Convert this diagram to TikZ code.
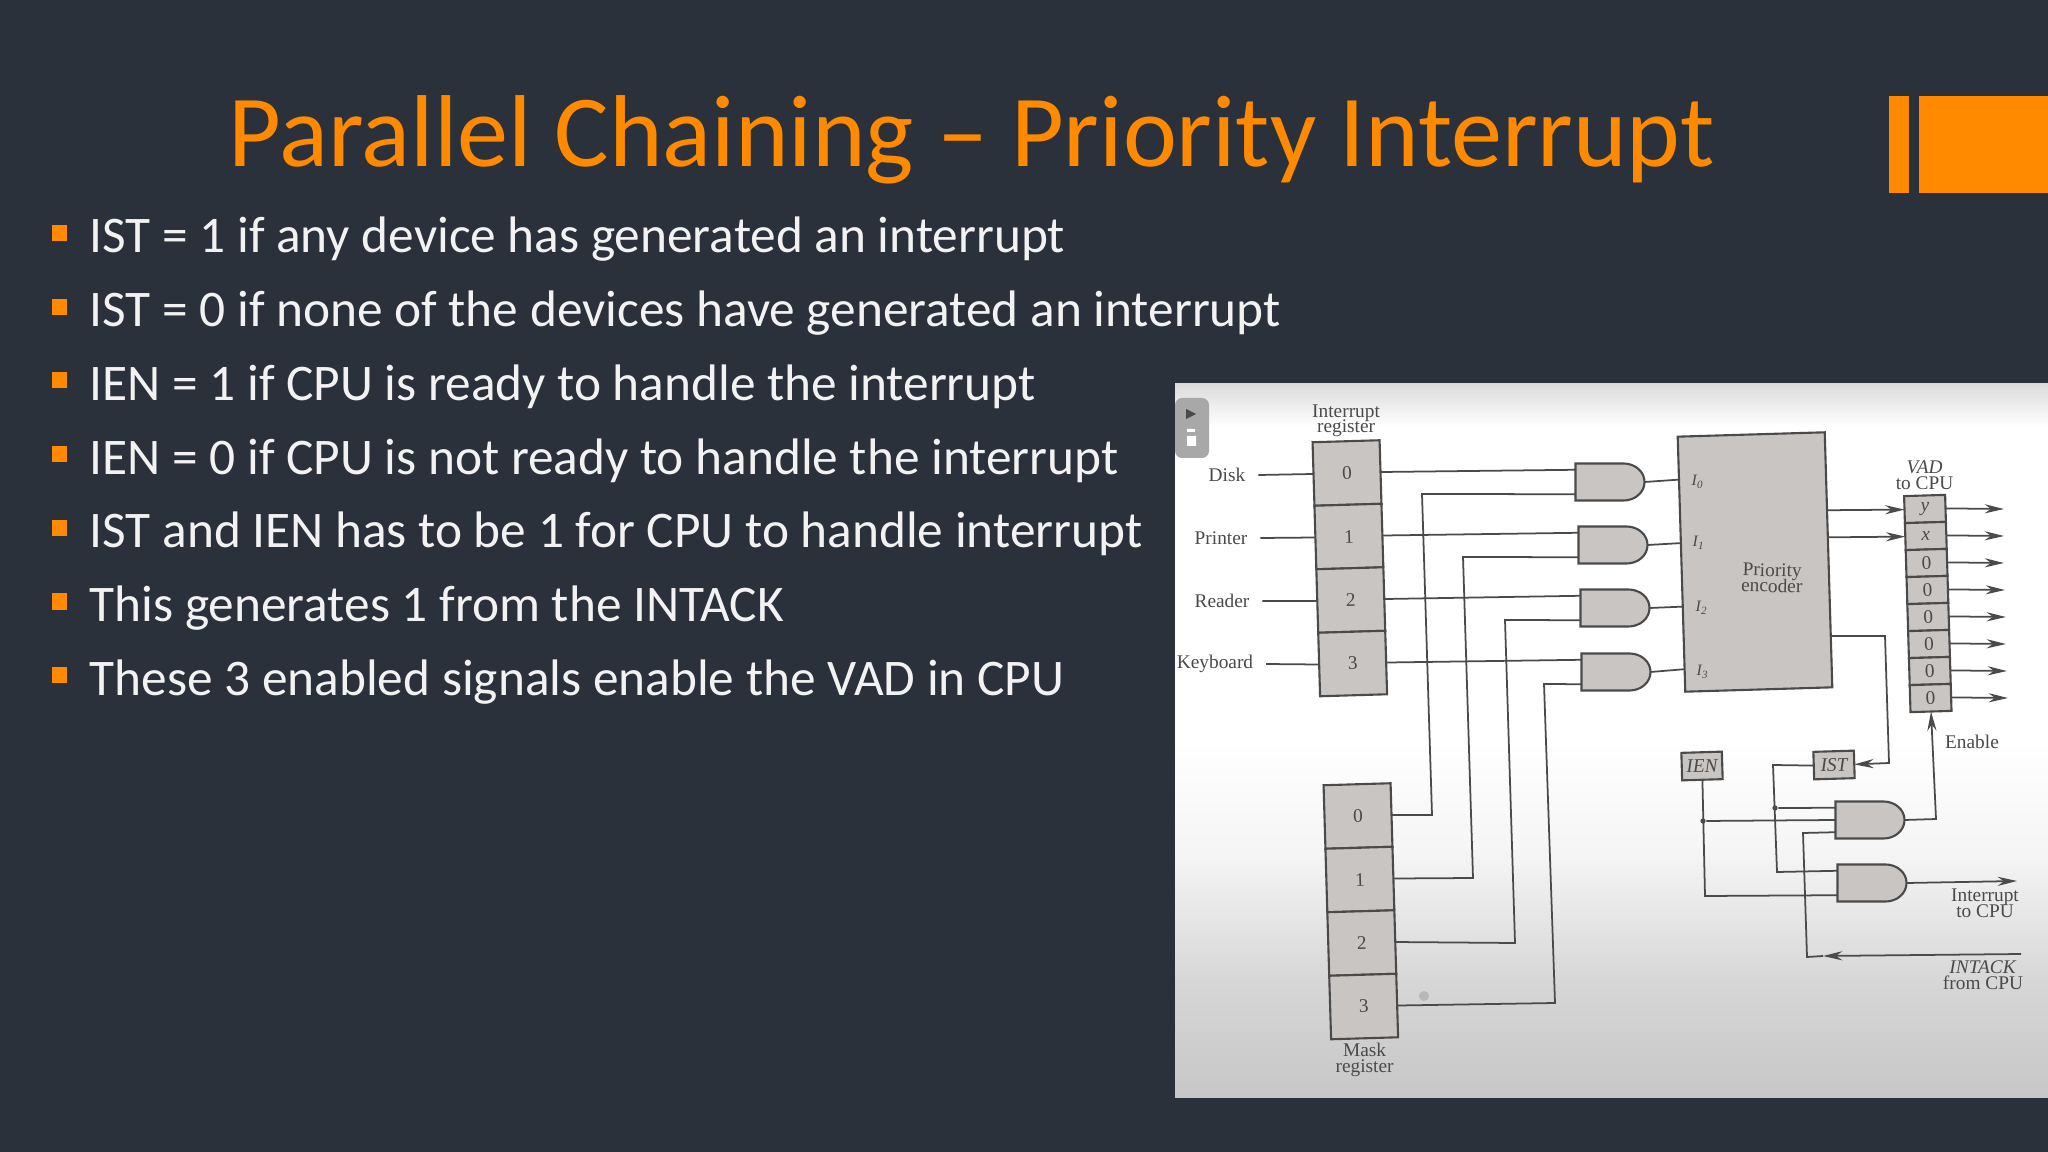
\documentclass[tikz,border=0pt]{standalone}
\usepackage{fontspec}
\setmainfont{Carlito}
\newfontfamily\scanfont{Liberation Serif}
\usetikzlibrary{shapes, arrows.meta, positioning, calc}
\definecolor{slidebg}{HTML}{2B313A}
\definecolor{accent}{HTML}{FF8A00}
\definecolor{ink}{HTML}{4A4A4A}
\definecolor{cellfill}{HTML}{C9C5C3}
\pgfdeclareverticalshading{scanpaper}{100bp}{color(0bp)=(white!78!black); color(25bp)=(white!78!black); color(33bp)=(white!84!black); color(42bp)=(white!96!black); color(50bp)=(white); color(72bp)=(white); color(75bp)=(white!86!black); color(100bp)=(white!86!black)}
\tikzset{
	wire/.style={draw=ink, line width=0.5pt},
	cell/.style={draw=ink, fill=cellfill, line width=0.6pt, outer sep=0pt, rotate=1.7, minimum width=0.67cm, minimum height=0.635cm, inner sep=0pt, text=ink, font=\scanfont\fontsize{5.5}{5}\selectfont},
	vadcell/.style={cell, minimum width=0.41cm, minimum height=0.27cm},
	flagbox/.style={cell, minimum width=0.405cm, minimum height=0.275cm, font=\scanfont\itshape\fontsize{5.5}{5}\selectfont},
	gatebox/.style={rectangle, outer sep=0pt, inner sep=0pt, minimum width=0.69cm, minimum height=0.37cm},
	gatebody/.style={draw=ink, fill=cellfill, line width=0.6pt},
	tag/.style={text=ink, inner xsep=3.5pt, inner ysep=0pt, align=center, font={\scanfont\fontsize{5.5}{4.5}\selectfont\lineskiplimit=-5pt}},
	pin/.style={text=ink, inner sep=0pt, font=\scanfont\itshape\fontsize{4.5}{4}\selectfont},
	point/.style={circle, fill=ink, inner sep=0pt, minimum size=1.5pt},
	linetext/.style={anchor=base west, text=white!95!black, inner sep=0pt, font=\fontsize{14.6}{18}\selectfont},
	square/.style={fill=accent, inner sep=0pt, minimum width=0.15cm, minimum height=0.16cm},
}
\begin{document}
\begin{tikzpicture}[x=0.01cm, y=-0.01cm, node distance=0pt and 0pt, >={Stealth[length=5.5pt,width=2.6pt]}]
	\useasboundingbox (0,0) rectangle (2048,1152);
	\fill[slidebg] (0,0) rectangle (2048,1152);
	\node[anchor=base west, inner sep=0pt, text=accent, font=\fontsize{29.05}{36}\selectfont] (title) at (228,167) {Parallel Chaining -- Priority Interrupt};
	\fill[accent] (1889,96) rectangle (1909,193);
	\fill[accent] (1919,96) rectangle (2048,193);
	\foreach \i/\txt in {0/IST = 1 if any device has generated an interrupt,
		1/IST = 0 if none of the devices have generated an interrupt,
		2/IEN = 1 if CPU is ready to handle the interrupt,
		3/IEN = 0 if CPU is not ready to handle the interrupt,
		4/IST and IEN has to be 1 for CPU to handle interrupt,
		5/This generates 1 from the INTACK,
		6/These 3 enabled signals enable the VAD in CPU} {
		\node[square] (b\i) at (59.5,{233+73.7*\i}) {};
		\node[linetext] (t\i) at (89,{253+73.7*\i}) {\txt};
	}

	\shade[shading=scanpaper] (1175,384) rectangle (2048,1097);
	\fill[white!66!black, rounded corners=2pt] (1175,398) rectangle (1209,458);
	\fill[ink] (1186,409) -- (1196,414) -- (1186,419) -- cycle;
	\fill[white] (1187,429) rectangle (1195,432) (1187,436) rectangle (1196,446);

	\node[cell] (r0) at (1347,473) {0};
	\node[cell, below =of r0] (r1) {1};
	\node[cell, below =of r1] (r2) {2};
	\node[cell, below =of r2] (r3) {3};
	\node[tag, above =1pt of r0] (intreg) {Interrupt\\register};
	\node[cell] (m0) at (1358,816) {0};
	\node[cell, below =of m0] (m1) {1};
	\node[cell, below =of m1] (m2) {2};
	\node[cell, below =of m2] (m3) {3};
	\node[tag, below =1.2pt of m3] (maskreg) {Mask\\register};
	\node[tag] (disk) at (1227,475) {Disk};
	\node[tag] (printer) at (1221,538) {Printer};
	\node[tag] (reader) at (1222,601) {Reader};
	\node[tag] (keyboard) at (1215,664) {Keyboard};
	\node[circle, fill=white!72!black, inner sep=0pt, minimum size=0.1cm] (spot) at (1424,996) {};

	\foreach \g/\x/\y in {a0/1610/482, a1/1613/545, a2/1615/608, a3/1616/672, ga/1870/820, gb/1872/883} {
		\node[gatebox] (\g) at (\x,\y) {};
		\draw[gatebody] (\g.north west) -- ++(0.48cm,0) arc[start angle=90, end angle=-90, x radius=0.21cm, y radius=0.185cm] -- (\g.south west) -- cycle;
		\coordinate (\g-1) at ($(\g.north west)!0.17!(\g.south west)$);
		\coordinate (\g-2) at (\g.west);
		\coordinate (\g-3) at ($(\g.north west)!0.83!(\g.south west)$);
	}

	\node[cell, minimum width=1.47cm, minimum height=2.55cm] (enc) at (1755,562) {};
	\node[tag, rotate=-1.5] (pri) at (1772,578) {Priority\\encoder};
	\node[pin] (i0) at (1698,482) {I\textsubscript{0}};
	\node[pin] (i1) at (1699,543) {I\textsubscript{1}};
	\node[pin] (i2) at (1702,608) {I\textsubscript{2}};
	\node[pin] (i3) at (1703,672) {I\textsubscript{3}};

	\node[vadcell] (v0) at (1925,509) {\textit{y}};
	\node[vadcell, below =of v0] (v1) {\textit{x}};
	\foreach \a/\b in {1/2,2/3,3/4,4/5,5/6,6/7}
		\node[vadcell, below =of v\a] (v\b) {0};
	\node[tag, above =1.5pt of v0] (vad) {\textit{VAD}\\to CPU};
	\node[tag] (enable) at (1972,742) {Enable};

	\node[flagbox] (ien) at (1702,766) {IEN};
	\node[flagbox] (ist) at (1834,765) {IST};
	\node[tag] (intcpu) at (1985,903) {Interrupt\\to CPU};
	\node[tag] (intack) at (1983,975) {\textit{INTACK}\\from CPU};

	\foreach \from/\to in {disk/r0, printer/r1, reader/r2, keyboard/r3}
		\draw[wire] (\from.east) -- (\to.west);
	\foreach \i in {0,1,2,3}
		\draw[wire] (r\i.east) -- (a\i-1);
	\foreach \i/\xb/\yb/\xt/\yt in {0/1432/815/1422/494, 1/1473/878/1463/557, 2/1515/943/1505/620, 3/1555/1003/1544/684} {
		\coordinate (k\i) at (\xb,\yb);
		\coordinate (j\i) at (\xt,\yt);
		\draw[wire] (m\i.east) -- (k\i) -- (j\i) -- (a\i-3);
	}
	\foreach \from/\to in {a0/enc.131.8, a1/enc.164.6, a2/enc.210.8, a3/enc.235.5}
		\draw[wire] (\from.east) -- (\to);

	\draw[wire, ->] (enc.34.6) -- (v0.west);
	\draw[wire, ->] (enc.17.2) -- (v1.west);
	\foreach \i/\xe in {0/2004,1/2004,2/2004,3/2005,4/2006,5/2006,6/2007,7/2008} {
		\coordinate (o\i) at (\xe,{509+27*\i});
		\draw[wire, ->] (v\i.east) -- (o\i);
	}

	\coordinate (c1) at (1885,636);
	\coordinate (c2) at (1889,763);
	\draw[wire, ->] (enc.-46) -- (c1) -- (c2) -- (ist.east);

	\coordinate (s1) at (1773,765);
	\coordinate (s2) at (1777,872);
	\node[point] (p1) at (1775,808) {};
	\draw[wire] (ist.west) -- (s1) -- (s2) -- (gb-1);
	\draw[wire] (p1) -- (ga-1);
	\coordinate (e1) at (1705,896);
	\node[point] (p2) at (1703,821) {};
	\draw[wire] (ien.south) -- (e1) -- (gb-3);
	\draw[wire] (p2) -- (ga-2);

	\coordinate (g1) at (1936,819);
	\draw[wire, ->] (ga.east) -- (g1) -- (v7.south);
	\coordinate (g2) at (2017,881);
	\draw[wire, ->] (gb.east) -- (g2);

	\coordinate (n1) at (2021,954);
	\coordinate (n2) at (1823,956);
	\coordinate (n3) at (1807,957);
	\coordinate (n4) at (1803,833);
	\draw[wire, ->] (n1) -- (n2);
	\draw[wire] (n2) -- (n3) -- (n4) -- (ga-3);
\end{tikzpicture}
\end{document}
